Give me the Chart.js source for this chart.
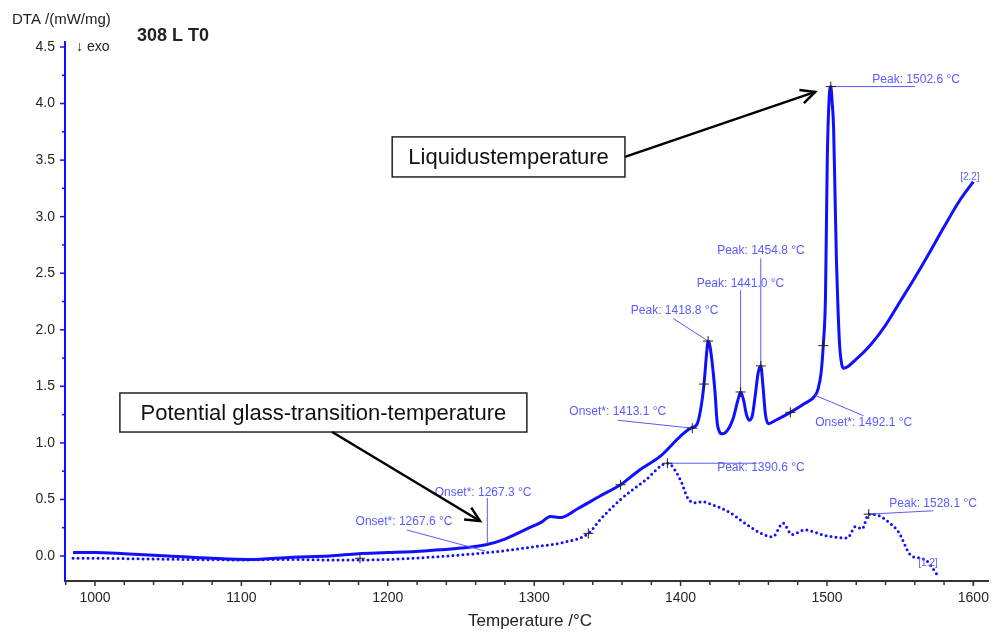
<!DOCTYPE html>
<html>
<head>
<meta charset="utf-8">
<script src="https://cdn.jsdelivr.net/npm/chart.js@4/dist/chart.umd.min.js"></script>
<style>
  html, body { margin: 0; padding: 0; background: #fff; }
  #wrap { width: 1003px; height: 632px; position: relative; }
</style>
</head>
<body>
<div id="wrap"><canvas id="dta"></canvas></div>
<script>
// curve [2.2] (solid)
const solidTemp = [985, 1000, 1020, 1050, 1080, 1105, 1135, 1160, 1180, 1200, 1225, 1250, 1267, 1280, 1295, 1305, 1311, 1318, 1330, 1345,
  1359, 1372, 1386, 1400, 1407, 1411, 1413.5, 1416, 1417.7, 1418.8, 1420, 1422, 1423.5, 1425, 1426.5, 1428.5, 1432, 1436, 1439, 1441,
  1443, 1445, 1447, 1449, 1451, 1453, 1454.8, 1456.3, 1458, 1460, 1465, 1475, 1485, 1492, 1494, 1496, 1497.5, 1499, 1500.2, 1501.5,
  1502.6, 1503.6, 1504.5, 1505.5, 1506.5, 1507.5, 1508.7, 1510, 1511.5, 1520, 1530, 1540, 1550, 1560, 1570, 1580, 1590, 1600];
const solidDta = [0.03, 0.03, 0.02, 0.0, -0.02, -0.03, -0.01, 0.0, 0.02, 0.03, 0.045, 0.07, 0.10, 0.15, 0.24, 0.30, 0.35, 0.34, 0.42, 0.53,
  0.63, 0.76, 0.88, 1.06, 1.13, 1.16, 1.28, 1.52, 1.78, 1.90, 1.86, 1.66, 1.45, 1.18, 1.10, 1.08, 1.11, 1.22, 1.37, 1.45,
  1.38, 1.25, 1.20, 1.24, 1.42, 1.62, 1.68, 1.50, 1.25, 1.17, 1.20, 1.27, 1.35, 1.42, 1.48, 1.62, 1.87, 2.3, 3.5, 4.05,
  4.15, 4.0, 3.8, 3.2, 2.6, 2.2, 1.85, 1.7, 1.66, 1.74, 1.87, 2.04, 2.25, 2.46, 2.68, 2.91, 3.13, 3.31];

// curve [1.2] (dotted)
const dottedTemp = [985, 1000, 1030, 1060, 1100, 1130, 1160, 1181, 1200, 1230, 1250, 1272, 1299, 1320, 1337, 1345, 1359, 1376, 1391, 1400,
  1405, 1410, 1415, 1420, 1433, 1445, 1455, 1463, 1470, 1476, 1485, 1499, 1514, 1519.5, 1524, 1528.5, 1535, 1542, 1549, 1557,
  1564, 1568, 1575.5];
const dottedDta = [-0.02, -0.02, -0.025, -0.03, -0.035, -0.03, -0.035, -0.035, -0.03, -0.01, 0.01, 0.035, 0.08, 0.12, 0.2, 0.32, 0.5, 0.67, 0.82, 0.67,
  0.51, 0.47, 0.48, 0.46, 0.39, 0.28, 0.20, 0.17, 0.29, 0.19, 0.23, 0.18, 0.16, 0.26, 0.24, 0.37, 0.36, 0.30, 0.21, 0.01,
  -0.02, -0.04, -0.17];

const xMajorTicks = [1000, 1100, 1200, 1300, 1400, 1500, 1600];
const xMinorTicks = [980, 1020, 1040, 1060, 1080, 1120, 1140, 1160, 1180, 1220, 1240, 1260, 1280, 1320, 1340, 1360, 1380,
  1420, 1440, 1460, 1480, 1520, 1540, 1560, 1580, 1600];
const yMajorTicks = [0.0, 0.5, 1.0, 1.5, 2.0, 2.5, 3.0, 3.5, 4.0, 4.5];
const yMinorTicks = [0.25, 0.75, 1.25, 1.75, 2.25, 2.75, 3.25, 3.75, 4.25];

// evaluation marks (+) and their labels
const crossTemp = [1181, 1337, 1359, 1391, 1408, 1416, 1418.8, 1441, 1454.8, 1475, 1497.5, 1502.6, 1528.5];
const crossDta  = [-0.02, 0.2, 0.63, 0.82, 1.13, 1.52, 1.9, 1.45, 1.68, 1.27, 1.86, 4.15, 0.37];

const labels = [
  {text: 'Peak: 1502.6 °C',   tx: 1531, ty: 4.21,  from: [1502.6, 4.15], to: [1560, 4.15]},
  {text: 'Peak: 1454.8 °C',   tx: 1425, ty: 2.70,  from: [1454.8, 1.68], to: [1454.8, 2.63]},
  {text: 'Peak: 1441.0 °C',   tx: 1411, ty: 2.405, from: [1441, 1.45],   to: [1441, 2.35]},
  {text: 'Peak: 1418.8 °C',   tx: 1366, ty: 2.166, from: [1418.8, 1.9],  to: [1395, 2.10]},
  {text: 'Onset*: 1413.1 °C', tx: 1324, ty: 1.273, from: [1408, 1.13],   to: [1357, 1.20]},
  {text: 'Onset*: 1492.1 °C', tx: 1492, ty: 1.176, from: [1492, 1.42],   to: [1525, 1.24]},
  {text: 'Peak: 1390.6 °C',   tx: 1425, ty: 0.778, from: [1391, 0.82],   to: [1452, 0.82]},
  {text: 'Peak: 1528.1 °C',   tx: 1542.6, ty: 0.46, from: [1528.5, 0.37], to: [1572.6, 0.40]},
  {text: 'Onset*: 1267.3 °C', tx: 1232, ty: 0.557, from: [1268, 0.11],   to: [1268, 0.513]},
  {text: 'Onset*: 1267.6 °C', tx: 1178, ty: 0.30,  from: [1266.5, 0.044], to: [1213, 0.23]}
];

const boxes = [
  {text: 'Liquidustemperature', x0: 1203, x1: 1362, y0: 3.351, y1: 3.705, from: [1362, 3.528], to: [1492, 4.103]},
  {text: 'Potential glass-transition-temperature', x0: 1017, x1: 1295, y0: 1.096, y1: 1.441, from: [1162, 1.096], to: [1263, 0.309]}
];

const blue = '#1010ff';
const labelBlue = '#5a5aff';
const FONT = '"Liberation Sans", Arial, sans-serif';

function toPoints(xs, ys) {
  return xs.map(function (t, i) { return {x: t, y: ys[i]}; });
}

function arrow(ctx, x0, y0, x1, y1) {
  ctx.beginPath();
  ctx.moveTo(x0, y0);
  ctx.lineTo(x1, y1);
  ctx.stroke();
  var a = Math.atan2(y1 - y0, x1 - x0), L = 16, w = 0.45;
  ctx.beginPath();
  ctx.moveTo(x1 - L * Math.cos(a - w), y1 - L * Math.sin(a - w));
  ctx.lineTo(x1, y1);
  ctx.lineTo(x1 - L * Math.cos(a + w), y1 - L * Math.sin(a + w));
  ctx.stroke();
}

const dtaDecor = {
  id: 'dtaDecor',
  afterDraw(chart) {
    const ctx = chart.ctx;
    const area = chart.chartArea;
    const x = chart.scales.x, y = chart.scales.y;
    ctx.save();

    // tick marks
    ctx.lineWidth = 1.5;
    ctx.strokeStyle = blue;
    yMajorTicks.forEach(function (v) {
      var p = y.getPixelForValue(v);
      ctx.beginPath(); ctx.moveTo(area.left - 5, p); ctx.lineTo(area.left, p); ctx.stroke();
    });
    yMinorTicks.forEach(function (v) {
      var p = y.getPixelForValue(v);
      ctx.beginPath(); ctx.moveTo(area.left - 3, p); ctx.lineTo(area.left, p); ctx.stroke();
    });
    ctx.strokeStyle = '#333';
    xMajorTicks.forEach(function (v) {
      var p = x.getPixelForValue(v);
      ctx.beginPath(); ctx.moveTo(p, area.bottom); ctx.lineTo(p, area.bottom + 5); ctx.stroke();
    });
    xMinorTicks.forEach(function (v) {
      var p = x.getPixelForValue(v);
      ctx.beginPath(); ctx.moveTo(p, area.bottom); ctx.lineTo(p, area.bottom + 4); ctx.stroke();
    });

    // leader lines and labels
    ctx.strokeStyle = labelBlue;
    ctx.fillStyle = labelBlue;
    ctx.lineWidth = 1;
    ctx.font = '12px ' + FONT;
    ctx.textBaseline = 'middle';
    ctx.textAlign = 'left';
    labels.forEach(function (l) {
      ctx.beginPath();
      ctx.moveTo(x.getPixelForValue(l.from[0]), y.getPixelForValue(l.from[1]));
      ctx.lineTo(x.getPixelForValue(l.to[0]), y.getPixelForValue(l.to[1]));
      ctx.stroke();
      ctx.fillText(l.text, x.getPixelForValue(l.tx), y.getPixelForValue(l.ty));
    });
    ctx.font = '10px ' + FONT;
    ctx.fillText('[2.2]', x.getPixelForValue(1591), y.getPixelForValue(3.35));
    ctx.fillText('[1.2]', x.getPixelForValue(1562.4), y.getPixelForValue(-0.06));

    // + marks
    ctx.strokeStyle = '#222';
    ctx.lineWidth = 1;
    crossTemp.forEach(function (t, i) {
      var px = x.getPixelForValue(t), py = y.getPixelForValue(crossDta[i]);
      ctx.beginPath();
      ctx.moveTo(px - 5, py); ctx.lineTo(px + 5, py);
      ctx.moveTo(px, py - 5); ctx.lineTo(px, py + 5);
      ctx.stroke();
    });

    // boxed comments with arrows
    ctx.font = '22px ' + FONT;
    ctx.textAlign = 'center';
    boxes.forEach(function (b) {
      var l = x.getPixelForValue(b.x0), r = x.getPixelForValue(b.x1);
      var t = y.getPixelForValue(b.y1), bt = y.getPixelForValue(b.y0);
      ctx.fillStyle = '#fff';
      ctx.fillRect(l, t, r - l, bt - t);
      ctx.strokeStyle = '#222';
      ctx.lineWidth = 1.5;
      ctx.strokeRect(l, t, r - l, bt - t);
      ctx.fillStyle = '#111';
      ctx.fillText(b.text, (l + r) / 2, (t + bt) / 2 + 1);
      ctx.strokeStyle = '#000';
      ctx.lineWidth = 2.5;
      arrow(ctx, x.getPixelForValue(b.from[0]), y.getPixelForValue(b.from[1]),
        x.getPixelForValue(b.to[0]), y.getPixelForValue(b.to[1]));
    });

    // titles
    ctx.fillStyle = '#222';
    ctx.textAlign = 'left';
    ctx.font = '15px ' + FONT;
    ctx.fillText('DTA /(mW/mg)', 12, 20);
    ctx.font = '14px ' + FONT;
    ctx.fillText('\u2193 exo', 76, 47);
    ctx.font = 'bold 18px ' + FONT;
    ctx.fillText('308 L T0', 137, 36);
    ctx.font = '17px ' + FONT;
    ctx.textAlign = 'center';
    ctx.fillText('Temperature /°C', 530, 621);
    ctx.restore();
  }
};

new Chart(document.getElementById('dta'), {
  type: 'line',
  data: {
    datasets: [
      {
        label: '[2.2]',
        data: toPoints(solidTemp, solidDta),
        borderColor: blue,
        borderWidth: 3,
        pointRadius: 0,
        cubicInterpolationMode: 'monotone',
        fill: false
      },
      {
        label: '[1.2]',
        data: toPoints(dottedTemp, dottedDta),
        borderColor: blue,
        borderWidth: 3,
        borderDash: [0, 5],
        borderCapStyle: 'round',
        pointRadius: 0,
        cubicInterpolationMode: 'monotone',
        fill: false
      }
    ]
  },
  options: {
    responsive: true,
    maintainAspectRatio: false,
    animation: false,
    layout: {padding: {top: 42, right: 15, left: 0, bottom: 0}},
    plugins: {legend: {display: false}, tooltip: {enabled: false}},
    scales: {
      x: {
        type: 'linear',
        min: 979.5,
        max: 1610,
        afterFit: function (s) { s.height = 51; },
        afterBuildTicks: function (s) { s.ticks = xMajorTicks.map(function (v) { return {value: v}; }); },
        grid: {display: false, drawTicks: true, tickLength: 5},
        border: {display: true, color: '#333', width: 2},
        ticks: {
          color: '#262626',
          font: {family: FONT, size: 14},
          padding: 4,
          maxRotation: 0,
          callback: function (v) { return String(v); }
        }
      },
      y: {
        type: 'linear',
        min: -0.221,
        max: 4.544,
        afterFit: function (s) { s.width = 65; },
        afterBuildTicks: function (s) { s.ticks = yMajorTicks.map(function (v) { return {value: v}; }); },
        grid: {display: false, drawTicks: true, tickLength: 5},
        border: {display: true, color: blue, width: 2},
        ticks: {
          color: '#262626',
          font: {family: FONT, size: 14},
          padding: 5,
          callback: function (v) { return v.toFixed(1); }
        }
      }
    }
  },
  plugins: [dtaDecor]
});
</script>
</body>
</html>
